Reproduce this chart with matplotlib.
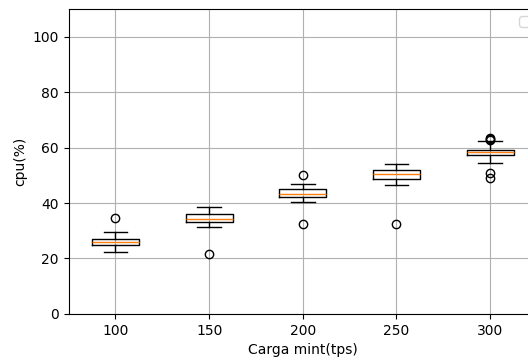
import matplotlib
matplotlib.use("Agg")
import matplotlib.pyplot as plt

# carga aplicada (tps) e estatisticas de cpu (%) por carga
cargas = ["100", "150", "200", "250", "300"]
medianas = [26.1, 34.4, 43.3, 50.6, 58.3]
q1 = [25.0, 33.3, 42.1, 48.6, 57.3]
q3 = [27.2, 36.2, 45.0, 52.0, 59.0]
whis_lo = [22.4, 31.4, 40.3, 46.4, 54.5]
whis_hi = [29.7, 38.7, 47.0, 54.2, 62.3]
outliers = [
    [34.5],
    [21.7],
    [50.2, 32.5],
    [32.5],
    [62.6, 63.2, 63.6, 50.7, 49.2],
]

stats = []
for i in range(len(cargas)):
    stats.append({
        "label": cargas[i],
        "med": medianas[i],
        "q1": q1[i],
        "q3": q3[i],
        "whislo": whis_lo[i],
        "whishi": whis_hi[i],
        "fliers": outliers[i],
    })

fig = plt.figure(figsize=(5.28, 3.6), dpi=100)
ax = fig.add_axes([0.130, 0.128, 0.887, 0.847])

ax.bxp(stats, showfliers=True)
ax.set_xlim(0.5, 5.5)
ax.set_ylim(0, 110)
ax.set_xlabel("Carga mint(tps)")
ax.set_ylabel("cpu(%)")
ax.grid(True)
ax.legend()

fig.savefig("out.png", dpi=100)
